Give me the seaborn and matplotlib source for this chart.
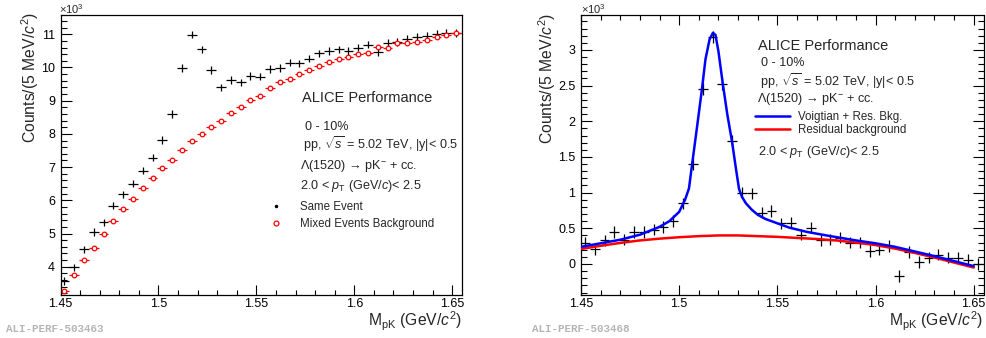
import numpy as np
import matplotlib
matplotlib.use("Agg")
import matplotlib.pyplot as plt
import seaborn as sns
from matplotlib.ticker import MultipleLocator, FuncFormatter
from matplotlib.lines import Line2D

# invariant mass bin centres (GeV/c^2), 5 MeV wide bins
mass = np.round(1.452 + 0.005 * np.arange(41), 4)

# left panel: counts in units of 10^3
same_event = [3.57, 3.98, 4.52, 5.05, 5.34, 5.84, 6.18, 6.50, 6.89, 7.28,
              7.82, 8.60, 9.98, 10.99, 10.55, 9.92, 9.40, 9.62, 9.55, 9.74,
              9.72, 9.95, 9.98, 10.14, 10.13, 10.26, 10.43, 10.50, 10.55, 10.50,
              10.60, 10.69, 10.47, 10.75, 10.77, 10.86, 10.93, 10.95, 11.02, 11.04, 11.04]
mixed_bkg = [3.28, 3.75, 4.20, 4.58, 4.98, 5.39, 5.73, 6.04, 6.38, 6.68,
             6.96, 7.20, 7.51, 7.79, 8.01, 8.20, 8.40, 8.63, 8.81, 9.01,
             9.14, 9.37, 9.57, 9.64, 9.80, 9.92, 10.05, 10.17, 10.25, 10.33,
             10.40, 10.43, 10.63, 10.60, 10.73, 10.73, 10.78, 10.83, 10.93, 10.98, 11.03]
same_err = 0.11
mixed_err = 0.06

# right panel: background subtracted, units of 10^3
signal = [0.30, 0.21, 0.33, 0.45, 0.34, 0.45, 0.45, 0.48, 0.52, 0.60,
          0.85, 1.40, 2.45, 3.18, 2.52, 1.73, 1.00, 0.99, 0.72, 0.74,
          0.57, 0.58, 0.41, 0.51, 0.33, 0.34, 0.37, 0.30, 0.30, 0.18,
          0.20, 0.25, -0.17, 0.17, 0.03, 0.09, 0.13, 0.09, 0.09, 0.06, 0.00]
signal_err = 0.08

# fit curves
fit_x = [1.450, 1.460, 1.470, 1.480, 1.490, 1.495, 1.500, 1.503, 1.505, 1.5065,
         1.509, 1.5116, 1.5134, 1.5155, 1.5172, 1.5185, 1.520, 1.5222, 1.5245, 1.527,
         1.529, 1.5305, 1.532, 1.534, 1.537, 1.540, 1.544, 1.550, 1.556, 1.565,
         1.575, 1.590, 1.600, 1.610, 1.620, 1.630, 1.640, 1.650]
fit_y = [0.24, 0.29, 0.34, 0.41, 0.52, 0.60, 0.73, 0.90, 1.06, 1.38,
         1.90, 2.45, 2.87, 3.15, 3.24, 3.21, 2.98, 2.53, 2.10, 1.70,
         1.32, 1.05, 0.94, 0.85, 0.76, 0.69, 0.63, 0.57, 0.51, 0.45,
         0.40, 0.33, 0.29, 0.24, 0.175, 0.11, 0.04, -0.03]
bkg_x = [1.45, 1.46, 1.47, 1.48, 1.49, 1.50, 1.51, 1.52, 1.53, 1.54, 1.55,
         1.56, 1.57, 1.58, 1.59, 1.60, 1.61, 1.62, 1.63, 1.64, 1.65]
bkg_y = [0.21, 0.255, 0.295, 0.33, 0.355, 0.375, 0.39, 0.40, 0.40, 0.39, 0.38,
         0.365, 0.35, 0.33, 0.30, 0.265, 0.215, 0.155, 0.09, 0.02, -0.05]

sns.set_style("ticks")
plt.rcParams['font.family'] = ['Liberation Sans', 'DejaVu Sans']
plt.rcParams['mathtext.fontset'] = 'custom'
plt.rcParams['mathtext.rm'] = 'Liberation Sans'
plt.rcParams['mathtext.it'] = 'Liberation Sans:italic'
plt.rcParams['mathtext.bf'] = 'Liberation Sans:bold'

W, H = 986, 338
fig = plt.figure(figsize=(W / 100, H / 100), dpi=100)


def fx(px):
    return px / W


def fy(py):
    return 1 - py / H


def style_axes(ax, all_sides):
    for s in ax.spines.values():
        s.set_linewidth(0.9)
        s.set_color("black")
    ax.set_xlim(1.45, 1.655)
    ax.xaxis.set_major_locator(MultipleLocator(0.05))
    ax.xaxis.set_minor_locator(MultipleLocator(0.01))
    ax.xaxis.set_major_formatter(FuncFormatter(lambda v, p: "%g" % round(v, 3)))
    ax.yaxis.set_major_formatter(FuncFormatter(lambda v, p: "%g" % round(v, 3)))
    ax.tick_params(which="both", direction="in", top=all_sides, right=all_sides,
                   width=0.8, labelsize=9, colors="black")
    ax.tick_params(axis="x", which="major", length=7, pad=2)
    ax.tick_params(axis="x", which="minor", length=3.5)
    ax.tick_params(axis="y", which="major", length=8, pad=4)
    ax.tick_params(axis="y", which="minor", length=4)


ax1 = fig.add_axes([fx(60.5), fy(295), 401.5 / W, 280 / H])
ax2 = fig.add_axes([fx(581), fy(295), 402.5 / W, 280 / H])

# left panel
ax1.errorbar(mass, same_event, xerr=0.0025, yerr=same_err, fmt="none",
             ecolor="black", elinewidth=0.9)
ax1.errorbar(mass, mixed_bkg, xerr=0.0025, yerr=mixed_err, fmt="none",
             ecolor="red", elinewidth=0.9)
sns.scatterplot(x=mass, y=mixed_bkg, ax=ax1, marker="o", s=11, color="white",
                edgecolor="red", linewidth=0.9, zorder=3)
style_axes(ax1, False)
ax1.set_ylim(3.15, 11.58)
ax1.yaxis.set_major_locator(MultipleLocator(1))
ax1.yaxis.set_minor_locator(MultipleLocator(0.2))

h1 = [Line2D([], [], marker=".", color="black", ls="none", ms=3),
      Line2D([], [], marker="o", mfc="white", mec="red", mew=0.9, ls="none", ms=3.5)]
ax1.legend(h1, ["Same Event", "Mixed Events Background"], loc="upper left",
           bbox_to_anchor=(fx(270), fy(201.5)), bbox_transform=fig.transFigure,
           borderpad=0, borderaxespad=0, handlelength=1.0, handletextpad=1.6,
           labelspacing=0.35, frameon=False, fontsize=8.3)

# right panel
ax2.errorbar(mass, signal, xerr=0.0025, yerr=signal_err, fmt="none",
             ecolor="black", elinewidth=0.9, zorder=2)
sns.lineplot(x=bkg_x, y=bkg_y, ax=ax2, color="red", lw=1.8, sort=False,
             estimator=None, zorder=3)
sns.lineplot(x=fit_x, y=fit_y, ax=ax2, color="blue", lw=1.8, sort=False,
             estimator=None, zorder=4)
style_axes(ax2, True)
ax2.set_ylim(-0.435, 3.49)
ax2.yaxis.set_major_locator(MultipleLocator(0.5))
ax2.yaxis.set_minor_locator(MultipleLocator(0.1))

h2 = [Line2D([], [], color="blue", lw=1.8), Line2D([], [], color="red", lw=1.8)]
ax2.legend(h2, ["Voigtian + Res. Bkg.", "Residual background"], loc="upper left",
           bbox_to_anchor=(fx(755), fy(111)), bbox_transform=fig.transFigure,
           borderpad=0, borderaxespad=0, handlelength=3.0, handletextpad=0.7,
           labelspacing=0.1, frameon=False, fontsize=8.3)

for ax in (ax1, ax2):
    ax.set_xlabel("")
    ax.set_ylabel("")

# axis titles
ytitle = "Counts/(5 MeV/$c^{2}$)"
xtitle = "M$_{\\mathrm{pK}}$ (GeV/$c^{2}$)"
fig.text(fx(30), fy(12), ytitle, rotation=90, ha="center", va="top", fontsize=11.3)
fig.text(fx(547), fy(13), ytitle, rotation=90, ha="center", va="top", fontsize=11.3)
fig.text(fx(462), fy(326), xtitle, ha="right", va="baseline", fontsize=11.3)
fig.text(fx(983), fy(326), xtitle, ha="right", va="baseline", fontsize=11.3)
fig.text(fx(59), fy(9), "\u00d710$^{3}$", ha="left", va="center", fontsize=8)
fig.text(fx(581), fy(9), "\u00d710$^{3}$", ha="left", va="center", fontsize=8)

# labels
sqrt_line = "pp, $\\sqrt{s}$ = 5.02 TeV, |y|< 0.5"
decay = "\u039b(1520) \u2192 pK$^{-}$ + cc."
pt_bin = "2.0 < $p_{\\mathrm{T}}$ (GeV/$c$)< 2.5"

fig.text(fx(301.5), fy(98), "ALICE Performance", ha="left", va="center", fontsize=10.5)
fig.text(fx(305), fy(126.5), "0 - 10%", ha="left", va="center", fontsize=9.1)
fig.text(fx(303), fy(144), sqrt_line, ha="left", va="center", fontsize=9.1)
fig.text(fx(300), fy(166), decay, ha="left", va="center", fontsize=9.1)
fig.text(fx(300.5), fy(186.5), pt_bin, ha="left", va="center", fontsize=9.1)

fig.text(fx(758), fy(46), "ALICE Performance", ha="left", va="center", fontsize=10.5)
fig.text(fx(761), fy(63.5), "0 - 10%", ha="left", va="center", fontsize=9.1)
fig.text(fx(760), fy(81), sqrt_line, ha="left", va="center", fontsize=9.1)
fig.text(fx(757), fy(99), decay, ha="left", va="center", fontsize=9.1)
fig.text(fx(758), fy(151.5), pt_bin, ha="left", va="center", fontsize=9.1)

fig.text(fx(6), fy(329), "ALI-PERF-503463", ha="left", va="center", fontsize=7.8,
         family="Liberation Mono", weight="bold", color="#b4b4b4")
fig.text(fx(532), fy(329), "ALI-PERF-503468", ha="left", va="center", fontsize=7.8,
         family="Liberation Mono", weight="bold", color="#b4b4b4")

fig.savefig("out.png", dpi=100)
